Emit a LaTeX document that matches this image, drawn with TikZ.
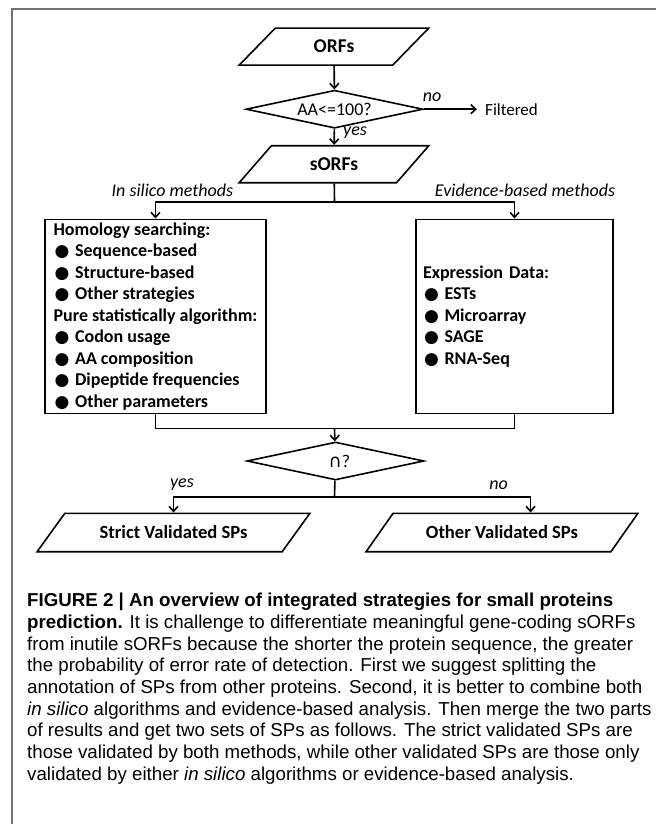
\documentclass[tikz,border=0pt]{standalone}
\usepackage{fontspec}
\setmainfont{Carlito}
\newfontfamily\capfont{Liberation Sans}
\newfontfamily\bulletfont{DejaVu Sans}
\usetikzlibrary{shapes.geometric,arrows.meta}
% bullet item inside the method boxes
\newcommand\itm[1]{\makebox[21.5pt][l]{\hspace{1pt}{\bulletfont\fontsize{17}{17}\selectfont ●}}#1}

\begin{document}
\begin{tikzpicture}[x=1pt,y=-1pt,
  every node/.style={font=\fontsize{18}{21.5}\selectfont},
  flow/.style={line width=1.6pt},
  arr/.style={flow,-{Straight Barb[length=5pt,width=9pt]}},
  iobox/.style={draw,line width=1.6pt,trapezium,trapezium stretches=true,inner sep=0pt,font=\fontsize{18.6}{21.5}\selectfont\bfseries},
  decision/.style={draw,line width=1.6pt,diamond,aspect=4.6,inner sep=0pt,minimum width=177pt,minimum height=38pt},
  listbox/.style={draw,line width=1.6pt,rectangle,align=left,inner xsep=7pt,inner ysep=0pt,minimum height=194pt,font=\fontsize{18}{21.5}\selectfont\bfseries},
  lbl/.style={inner sep=0pt,font=\fontsize{18}{21.5}\selectfont\itshape}]
\useasboundingbox (0,0) rectangle (656,824);
% Frame
\draw[black!55,line width=2pt] (11.7,824) -- (11.7,9) -- (656,9);

% Top part of the flow
\node[iobox,trapezium left angle=46,trapezium right angle=134,minimum width=190pt,minimum height=37pt,font=\fontsize{19.5}{21.5}\selectfont\bfseries] (orfs) at (334,46.6) {ORFs};
\node[decision] (aa) at (334.5,109.2) {AA<=100?};
\node[anchor=west,inner xsep=8pt,inner ysep=0pt,font=\fontsize{17}{21.5}\selectfont] (filtered) at (477,109.2) {Filtered};
\node[lbl] (nolbl) at (432,97) {no};
\node[lbl,anchor=west] (yeslbl) at (343,133) {yes};
\node[iobox,trapezium left angle=46,trapezium right angle=134,minimum width=190pt,minimum height=37pt,font=\fontsize{19.5}{21.5}\selectfont\bfseries] (sorfs) at (334,164.2) {sORFs};

\draw[arr] (orfs) -- (aa);
\draw[arr] (aa.east) -- (filtered);
\draw[arr] (aa) -- (sorfs);

% The two kinds of methods
\node[lbl] (silicolbl) at (172.4,190) {In silico methods};
\node[lbl] (evidlbl) at (525,190) {Evidence-based methods};
\node[listbox,minimum width=221pt] (insilico) at (155.5,316.3) {Homology searching:\\
\itm{Sequence-based}\\
\itm{Structure-based}\\
\itm{Other strategies}\\
Pure statistically algorithm:\\
\itm{Codon usage}\\
\itm{AA composition}\\
\itm{Dipeptide frequencies}\\
\itm{Other parameters}};
\node[listbox,minimum width=197pt,text width=183pt] (evidence) at (514.5,316.3) {Expression Data:\\
\itm{ESTs}\\
\itm{Microarray}\\
\itm{SAGE}\\
\itm{RNA-Seq}};

\coordinate (fork) at (334.5,201.7);
\draw[flow] (sorfs) -- (fork);
\draw[arr] (fork) -| (insilico.north);
\draw[arr] (fork) -| (evidence.north);

% Merge and intersection
\coordinate (join) at (334.5,428.3);
\node[decision] (inter) at (335.5,461) {\hspace*{8pt}{\bulletfont ∩}?};
\draw[flow] (insilico.south) |- (join) -| (evidence.south);
\draw[arr] (join) -- (inter);

% Results
\node[iobox,trapezium left angle=35,trapezium right angle=145,minimum width=273pt,minimum height=38.4pt] (strict) at (173.5,532.5) {Strict Validated SPs};
\node[iobox,trapezium left angle=35,trapezium right angle=145,minimum width=272pt,minimum height=38.4pt] (other) at (502,532.5) {Other Validated SPs};
\node[lbl] (yes2) at (182,485) {yes};
\node[lbl] (no2) at (498.5,485) {no};
\coordinate (split) at (334.5,496.7);
\draw[flow] (inter) -- (split);
\draw[arr] (split) -| (strict.north);
\draw[arr] (split) -| ([xshift=28.5pt]other.north);

% Caption
\node[anchor=north west,inner sep=0pt,align=left,font=\capfont\fontsize{18.7}{21.66}\selectfont] (caption) at (27,593) {\textbf{FIGURE 2 | An overview of integrated strategies for small proteins}\\
\textbf{prediction.} It is challenge to differentiate meaningful gene-coding sORFs\\
from inutile sORFs because the shorter the protein sequence, the greater\\
the probability of error rate of detection. First we suggest splitting the\\
annotation of SPs from other proteins. Second, it is better to combine both\\
\textit{in silico} algorithms and evidence-based analysis. Then merge the two parts\\
of results and get two sets of SPs as follows. The strict validated SPs are\\
those validated by both methods, while other validated SPs are those only\\
validated by either \textit{in silico} algorithms or evidence-based analysis.};
\end{tikzpicture}
\end{document}
